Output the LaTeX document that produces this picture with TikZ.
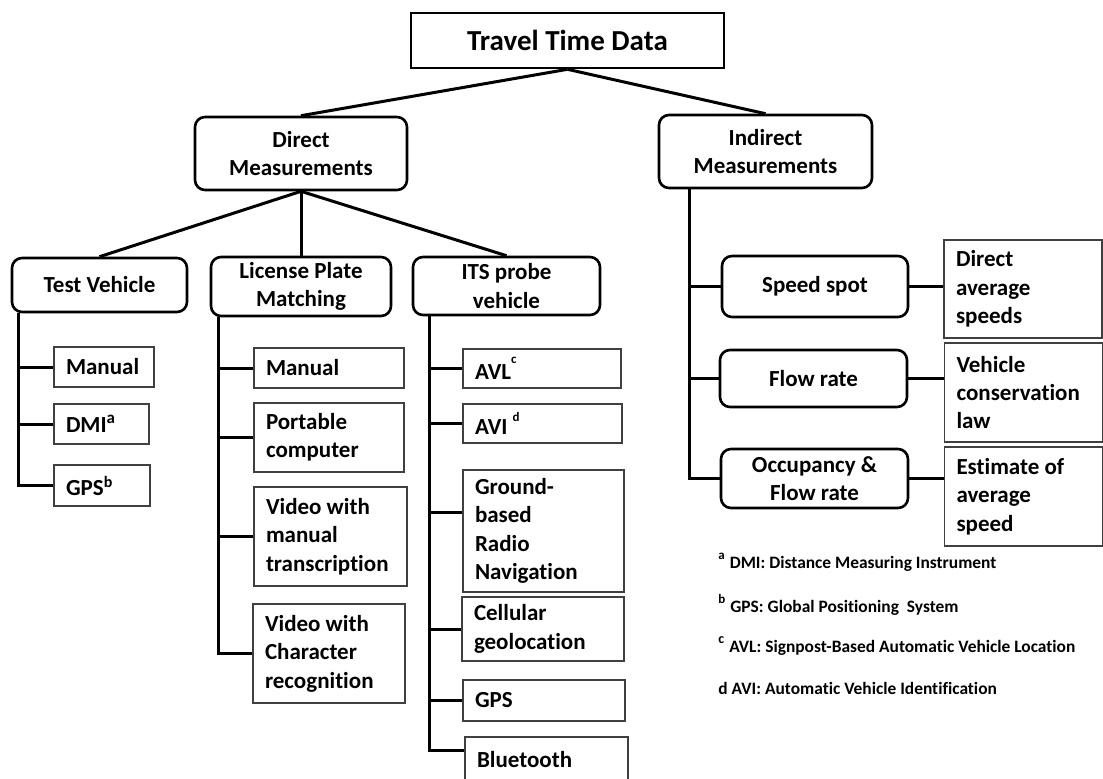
\documentclass[tikz,border=0pt]{standalone}
\usepackage{fontspec}
\setmainfont{Carlito}[Ligatures=NoCommon]
\usetikzlibrary{positioning}
\newcommand{\supletter}[3]{\raisebox{#1}{\fontsize{#2}{#2}\selectfont #3}}
\newcommand{\diagfont}{\fontsize{11.5}{14.2}\selectfont\bfseries}
\tikzset{
    rootbox/.style={
        draw, line width=1.3pt,
        minimum width=156.5pt, minimum height=27.5pt,
        font=\fontsize{14.5}{17}\selectfont\bfseries
    },
    groupbox/.style={
        draw, line width=1.3pt, rounded corners=5pt,
        align=flush center, inner sep=1pt, font=\diagfont
    },
    leafbox/.style={
        draw=black!75, line width=0.7pt, align=flush left,
        inner xsep=6pt, inner ysep=0pt, font=\diagfont
    },
    leaf/.style 2 args={leafbox, text width=#1, minimum height=#2},
    fnote/.style={anchor=base west, inner sep=0pt, font=\fontsize{8.7}{10}\selectfont\bfseries},
    branch/.style={line width=1.5pt}
}

\begin{document}
\begin{tikzpicture}[x=0.5pt, y=-0.5pt]
    \useasboundingbox (0,0) rectangle (1103,778);

    % top levels
    \node[rootbox] (root) at (567.5,40.5) {Travel Time Data};
    \node[groupbox, minimum width=106pt, minimum height=36.5pt] (dm) at (301,153.5) {Direct\\Measurements};
    \node[groupbox, minimum width=106.5pt, minimum height=36.5pt] (im) at (765.5,151.5) {Indirect\\Measurements};

    % direct methods
    \node[groupbox, minimum width=87.5pt, minimum height=27pt] (tv) at (99.5,285) {Test Vehicle};
    \node[groupbox, minimum width=90pt, minimum height=29.5pt] (lp) at (301,286.5) {License Plate\\Matching};
    \node[groupbox, minimum width=93.5pt, minimum height=29pt] (its) at (506.5,286) {ITS probe\\vehicle};

    % test vehicle
    \node[leaf={38pt}{20pt}] (tvman) at (104,367) {Manual};
    \node[leaf={35.5pt}{20pt}] (tvdmi) at (101.5,424) {DMI\supletter{4.3pt}{8.5pt}{a}};
    \node[leaf={36pt}{20.5pt}] (tvgps) at (102,485.5) {GPS\supletter{4pt}{8pt}{b}};

    % license plate matching
    \node[leaf={63pt}{20pt}] (lpman) at (329,368) {Manual};
    \node[leaf={63pt}{34.5pt}] (lppc) at (329,437.5) {Portable\\computer};
    \node[leaf={64.5pt}{49.5pt}] (lpvmt) at (330.5,536.5) {Video with\\manual\\transcription};
    \node[leaf={64pt}{49.5pt}] (lpvcr) at (329,653.5) {Video with\\Character\\recognition};

    % ITS probe vehicle
    \node[leaf={67pt}{19.5pt}] (itsavl) at (542,368.5) {AVL\supletter{8pt}{6.5pt}{c}};
    \node[leaf={67.5pt}{19.5pt}] (itsavi) at (542.5,423.5) {AVI\ \supletter{6.5pt}{6.5pt}{d}};
    \node[leaf={68.5pt}{61pt}] (itsgbr) at (543.5,531) {Ground-\\based\\Radio\\Navigation};
    \node[leaf={69pt}{32pt}] (itscell) at (543,629) {Cellular\\geolocation};
    \node[leaf={69pt}{20.5pt}] (itsgps) at (544,700.5) {GPS};
    \node[leaf={69.5pt}{22pt}] (itsbt) at (546.5,759) {Bluetooth};

    % indirect methods
    \node[groupbox, minimum width=93pt, minimum height=30.5pt] (speed) at (815,286.5) {Speed spot};
    \node[groupbox, minimum width=93.5pt, minimum height=28.5pt] (flow) at (813.5,378.5) {Flow rate};
    \node[groupbox, minimum width=93.5pt, minimum height=29.5pt] (occ) at (814.5,478.5) {Occupancy \&\\Flow rate};
    \node[leaf={67pt}{49pt}] (res1) at (1023,289) {Direct\\average\\speeds};
    \node[leaf={67pt}{49.5pt}] (res2) at (1023.5,392.5) {Vehicle\\conservation\\law};
    \node[leaf={67pt}{49.5pt}] (res3) at (1023.5,496.5) {Estimate of\\average\\speed};

    % footnotes
    \node[fnote] (fna) at (718,568) {\supletter{4.5pt}{6.5pt}{a}\hspace{2.5pt}DMI: Distance Measuring Instrument};
    \node[fnote] (fnb) at (718,612) {\supletter{4.5pt}{6.5pt}{b}\hspace{2.5pt}GPS: Global Positioning~ System};
    \node[fnote] (fnc) at (718,652) {\supletter{4.5pt}{7pt}{c}\hspace{2.5pt}AVL: Signpost-Based Automatic Vehicle Location};
    \node[fnote] (fnd) at (718,694) {d\hspace{2pt}AVI: Automatic Vehicle Identification};

    % connectors
    \draw[branch] (root.south) -- (dm.north);
    \draw[branch] (root.south) -- (im.north);
    \foreach \n in {tv, lp, its}
        \draw[branch] (dm.south) -- (\n.north);

    \coordinate (tvx) at (18,0);
    \coordinate (lpx) at (218,0);
    \coordinate (itsx) at (429,0);
    \coordinate (imx) at (689,0);

    \draw[branch] (tvx |- tv.south) |- (tvgps.west);
    \foreach \n in {tvman, tvdmi}
        \draw[branch] (\n.west -| tvx) -- (\n.west);

    \draw[branch] (lpx |- lp.south) |- (lpvcr.west);
    \foreach \n in {lpman, lppc, lpvmt}
        \draw[branch] (\n.west -| lpx) -- (\n.west);

    \draw[branch] (itsx |- its.south) |- ([yshift=4.5pt]itsbt.west);
    \foreach \n in {itsavl, itsavi, itscell, itsgps}
        \draw[branch] (\n.west -| itsx) -- (\n.west);
    \draw[branch] ([yshift=9.5pt]itsgbr.west -| itsx) -- ([yshift=9.5pt]itsgbr.west);

    \draw[branch] (imx |- im.south) |- (occ.west);
    \foreach \n in {speed, flow}
        \draw[branch] (\n.west -| imx) -- (\n.west);
    \draw[branch] (speed.east) -- (speed.east -| res1.west);
    \draw[branch] (flow.east) -- (flow.east -| res2.west);
    \draw[branch] (occ.east) -- (occ.east -| res3.west);

\end{tikzpicture}
\end{document}
